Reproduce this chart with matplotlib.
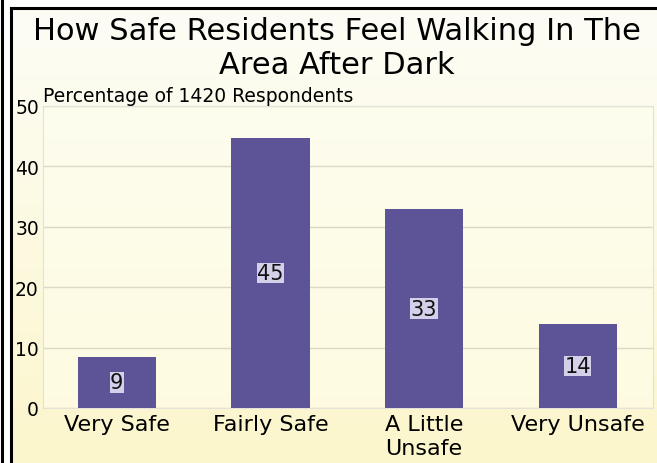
import matplotlib
matplotlib.use("Agg")
import matplotlib.pyplot as plt
import numpy as np
from matplotlib.lines import Line2D

# data
categories = ["Very Safe", "Fairly Safe", "A Little\nUnsafe", "Very Unsafe"]
values = [8.5, 44.7, 32.9, 13.9]
labels = ["9", "45", "33", "14"]
yticks = [0, 10, 20, 30, 40, 50]

W, H = 657, 464
fig = plt.figure(figsize=(W / 100, H / 100), dpi=100)
fig.patch.set_facecolor("white")

# gradient background inside the frame
bg = fig.add_axes([11 / W, 0, 1 - 11 / W, 1 - 10 / H])
bg.axis("off")
grad = np.linspace(0, 1, 256).reshape(-1, 1)
top = np.array([253, 253, 246]) / 255
bot = np.array([252, 246, 204]) / 255
img = top + (bot - top) * grad[..., None]
bg.imshow(img, aspect="auto", extent=(0, 1, 0, 1))

# frame lines
fig.add_artist(Line2D([1.5 / W, 1.5 / W], [0, 1], color="black", lw=2.2,
                      transform=fig.transFigure))
fig.add_artist(Line2D([10.5 / W, 10.5 / W], [0, 1 - 8.5 / H], color="black", lw=2.2,
                      transform=fig.transFigure))
fig.add_artist(Line2D([10.5 / W, 1], [1 - 8.5 / H, 1 - 8.5 / H], color="black", lw=2.2,
                      transform=fig.transFigure))

ax = fig.add_axes([43 / W, 1 - 409 / H, 610 / W, 302 / H])
ax.set_facecolor((1, 1, 0.94, 0.5))
x = np.arange(len(categories))
ax.bar(x, values, width=0.51, color="#5c5496", zorder=3)
ax.set_xlim(-0.48, 3.49)
ax.set_ylim(0, 50)
ax.set_yticks(yticks)
ax.yaxis.grid(True, color="#dcd8c4", lw=1, zorder=1)
ax.set_xticks(x)
ax.set_xticklabels(categories, fontsize=16, linespacing=1.25)
ax.tick_params(axis="both", length=0)
ax.tick_params(axis="y", labelsize=13.5, pad=3)
ax.tick_params(axis="x", pad=4)
for s in ax.spines.values():
    s.set_color("#e4e2d8")

for xi, v, lab in zip(x, values, labels):
    ax.text(xi, v / 2, lab, ha="center", va="center", fontsize=15, color="#111111",
            zorder=4,
            bbox=dict(boxstyle="square,pad=0.02", fc="#d4d0ea", ec="none"))

fig.text(337 / W, 1 - 32 / H, "How Safe Residents Feel Walking In The",
         ha="center", va="center", fontsize=22)
fig.text(337 / W, 1 - 66 / H, "Area After Dark",
         ha="center", va="center", fontsize=22)
fig.text(43 / W, 1 - 97 / H, "Percentage of 1420 Respondents",
         ha="left", va="center", fontsize=13.5)

fig.savefig("out.png", dpi=100)
